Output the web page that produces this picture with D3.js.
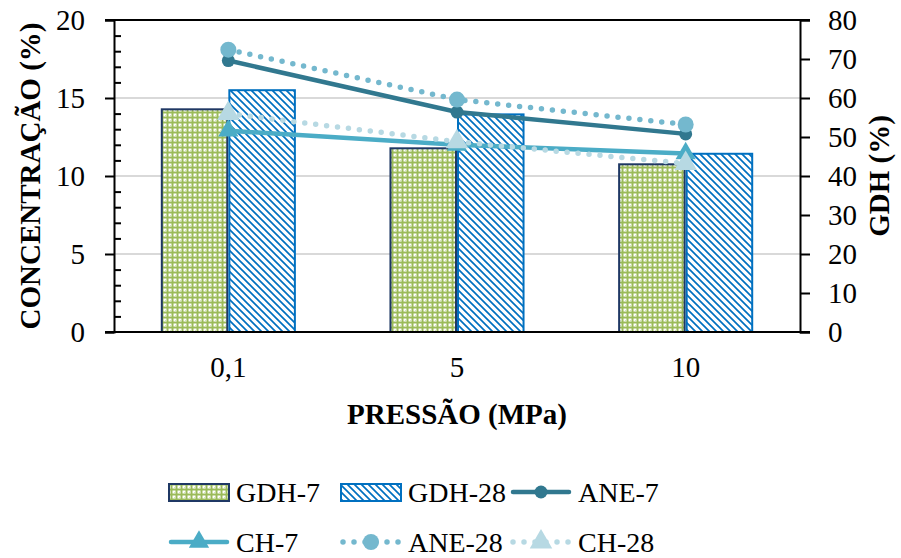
<!DOCTYPE html>
<html>
<head>
<meta charset="utf-8">
<script src="https://cdn.jsdelivr.net/npm/d3@7"></script>
<style>
  body { margin: 0; background: #fff; }
  svg { font-family: "Liberation Serif", "Times New Roman", serif; }
</style>
</head>
<body>
<div id="chart"></div>
<script>
// data
var categories = ["0,1", "5", "10"];
var gdh7  = [57.1, 47.1, 43.0];   // right axis (GDH %)
var gdh28 = [62.0, 55.8, 45.7];
var ane7  = [17.4, 14.1, 12.7];   // left axis (concentration %)
var ch7   = [12.9, 12.0, 11.45];
var ane28 = [18.1, 14.9, 13.3];
var ch28  = [14.0, 12.2, 10.8];
var leftTicks  = [0, 5, 10, 15, 20];
var rightTicks = [0, 10, 20, 30, 40, 50, 60, 70, 80];

var W = 901, H = 558;
var plot = {left: 114, right: 800, top: 20, bottom: 332};

var svg = d3.select("#chart").append("svg")
    .attr("width", W)
    .attr("height", H);

// patterns for the bars
var defs = svg.append("defs");
var pGreen = defs.append("pattern")
    .attr("id", "pGreen")
    .attr("patternUnits", "userSpaceOnUse")
    .attr("width", 5).attr("height", 5);
pGreen.append("rect").attr("width", 5).attr("height", 5).attr("fill", "#fff");
// green plus shapes
pGreen.append("rect").attr("x", 1.5).attr("y", 0).attr("width", 2).attr("height", 5).attr("fill", "#9BBB59");
pGreen.append("rect").attr("x", 0).attr("y", 1.5).attr("width", 5).attr("height", 2).attr("fill", "#9BBB59");
pGreen.append("rect").attr("x", 0).attr("y", 0).attr("width", 1.5).attr("height", 1.5).attr("fill", "#D7E4BD");

var pBlue = defs.append("pattern")
    .attr("id", "pBlue")
    .attr("patternUnits", "userSpaceOnUse")
    .attr("width", 7).attr("height", 7);
pBlue.append("rect").attr("width", 7).attr("height", 7).attr("fill", "#fff");
pBlue.append("path")
    .attr("d", "M0,0 L7,7 M-3.5,3.5 L3.5,10.5 M3.5,-3.5 L10.5,3.5")
    .attr("stroke", "#0070C0")
    .attr("stroke-width", 1.7);

// scales
var x = d3.scaleBand()
    .domain(categories)
    .range([plot.left, plot.right])
    .paddingInner(0.418)
    .paddingOuter(0.209);

var xSub = d3.scaleBand()
    .domain(["GDH-7", "GDH-28"])
    .range([0, x.bandwidth()])
    .paddingInner(0.03);

var yL = d3.scaleLinear().domain([0, 20]).range([plot.bottom, plot.top]);
var yR = d3.scaleLinear().domain([0, 80]).range([plot.bottom, plot.top]);

// gridlines
svg.append("g")
    .selectAll("line")
    .data([5, 10, 15])
    .enter()
    .append("line")
    .attr("x1", plot.left).attr("x2", plot.right)
    .attr("y1", function(d) { return yL(d); })
    .attr("y2", function(d) { return yL(d); })
    .attr("stroke", "#D9D9D9")
    .attr("stroke-width", 2);

// top border
svg.append("line")
    .attr("x1", 105).attr("x2", 810)
    .attr("y1", yL(20)).attr("y2", yL(20))
    .attr("stroke", "#000").attr("stroke-width", 2);

// bars
var series = [
    {name: "GDH-7", values: gdh7, fill: "url(#pGreen)", stroke: "#1F3864"},
    {name: "GDH-28", values: gdh28, fill: "url(#pBlue)", stroke: "#0070C0"}
];

series.forEach(function(s) {
    svg.append("g")
        .selectAll("rect")
        .data(s.values)
        .enter()
        .append("rect")
        .attr("x", function(d, i) { return x(categories[i]) + xSub(s.name); })
        .attr("y", function(d) { return yR(d); })
        .attr("width", xSub.bandwidth())
        .attr("height", function(d) { return yR(0) - yR(d); })
        .attr("fill", s.fill)
        .attr("stroke", s.stroke)
        .attr("stroke-width", 2);
});

// axes
var leftAxis = svg.append("g")
    .attr("transform", "translate(" + plot.left + ",0)")
    .call(d3.axisLeft(yL).tickValues(leftTicks).tickSize(9).tickPadding(20).tickFormat(d3.format("d")));
// minor ticks (inside)
svg.append("g")
    .attr("transform", "translate(" + plot.left + ",0)")
    .call(d3.axisRight(yL).tickValues(d3.range(0, 21).filter(function(d) { return d % 5 != 0; })).tickSize(7).tickFormat(""))
    .select(".domain").remove();

var rightAxis = svg.append("g")
    .attr("transform", "translate(" + plot.right + ",0)")
    .call(d3.axisRight(yR).tickValues(rightTicks).tickSize(10).tickPadding(18).tickFormat(d3.format("d")));

var bottomAxis = svg.append("g")
    .attr("transform", "translate(0," + plot.bottom + ")")
    .call(d3.axisBottom(x).tickSize(0).tickPadding(24));
bottomAxis.select(".domain").attr("d", "M105,0H810");

[leftAxis, rightAxis, bottomAxis].forEach(function(a) {
    a.selectAll("text")
        .style("font-family", "'Liberation Serif', 'Times New Roman', serif")
        .style("font-size", "29px")
        .attr("fill", "#000");
    a.selectAll("line").attr("stroke", "#000").attr("stroke-width", 2);
    a.select(".domain").attr("stroke", "#000").attr("stroke-width", 2);
});
svg.selectAll(".tick line").attr("stroke", "#000").attr("stroke-width", 2);

// lines
var lineSeries = [
    {name: "ANE-7", values: ane7, color: "#31788F", marker: "circle", r: 6.5, dash: null},
    {name: "CH-7", values: ch7, color: "#4BACC6", marker: "triangle", r: 9, dash: null},
    {name: "ANE-28", values: ane28, color: "#74B8CE", marker: "circle", r: 8, dash: "0 11"},
    {name: "CH-28", values: ch28, color: "#B7D9E3", marker: "triangle", r: 10, dash: "0 11"}
];

var line = d3.line()
    .x(function(d, i) { return x(categories[i]) + x.bandwidth() / 2; })
    .y(function(d) { return yL(d); });

var tri = d3.symbol().type(d3.symbolTriangle);

function drawMarker(g, type, cx, cy, r, color) {
    if (type == "circle") {
        g.append("circle").attr("cx", cx).attr("cy", cy).attr("r", r).attr("fill", color);
    } else {
        g.append("path")
            .attr("d", tri.size(r * r * 2.2)())
            .attr("transform", "translate(" + cx + "," + cy + ")")
            .attr("fill", color);
    }
}

lineSeries.forEach(function(s) {
    var g = svg.append("g");
    g.append("path")
        .datum(s.values)
        .attr("d", line)
        .attr("fill", "none")
        .attr("stroke", s.color)
        .attr("stroke-width", s.dash ? 5.5 : 4.5)
        .attr("stroke-linecap", "round")
        .attr("stroke-dasharray", s.dash);
    s.values.forEach(function(v, i) {
        drawMarker(g, s.marker, x(categories[i]) + x.bandwidth() / 2, yL(v), s.r, s.color);
    });
});

// axis titles
svg.append("text")
    .attr("transform", "translate(40,176) rotate(-90)")
    .attr("text-anchor", "middle")
    .style("font-size", "29px")
    .style("font-weight", "bold")
    .text("CONCENTRAÇÃO (%)");

svg.append("text")
    .attr("transform", "translate(889,176) rotate(-90)")
    .attr("text-anchor", "middle")
    .style("font-size", "29px")
    .style("font-weight", "bold")
    .text("GDH (%)");

svg.append("text")
    .attr("x", 457).attr("y", 424)
    .attr("text-anchor", "middle")
    .style("font-size", "29px")
    .style("font-weight", "bold")
    .text("PRESSÃO (MPa)");

// legend
var legendItems = [
    {name: "GDH-7", kind: "bar", fill: "url(#pGreen)", stroke: "#1F3864"},
    {name: "GDH-28", kind: "bar", fill: "url(#pBlue)", stroke: "#0070C0"},
    lineSeries[0], lineSeries[1], lineSeries[2], lineSeries[3]
];
var colX = [169, 341, 511];
var rowY = [492, 542];

legendItems.forEach(function(it, i) {
    var lx = colX[i % 3], ly = rowY[Math.floor(i / 3)];
    var g = svg.append("g").attr("transform", "translate(" + lx + "," + ly + ")");
    if (it.kind == "bar") {
        g.append("rect")
            .attr("x", 0).attr("y", -8)
            .attr("width", 60).attr("height", 17)
            .attr("fill", it.fill)
            .attr("stroke", it.stroke)
            .attr("stroke-width", 2);
    } else {
        g.append("line")
            .attr("x1", 2).attr("x2", 58)
            .attr("y1", 0).attr("y2", 0)
            .attr("stroke", it.color)
            .attr("stroke-width", it.dash ? 5.5 : 4.5)
            .attr("stroke-linecap", "round")
            .attr("stroke-dasharray", it.dash);
        drawMarker(g, it.marker, 30, 0, it.r, it.color);
    }
    g.append("text")
        .attr("x", 67).attr("y", 10)
        .style("font-size", "28px")
        .text(it.name);
});
</script>
</body>
</html>
